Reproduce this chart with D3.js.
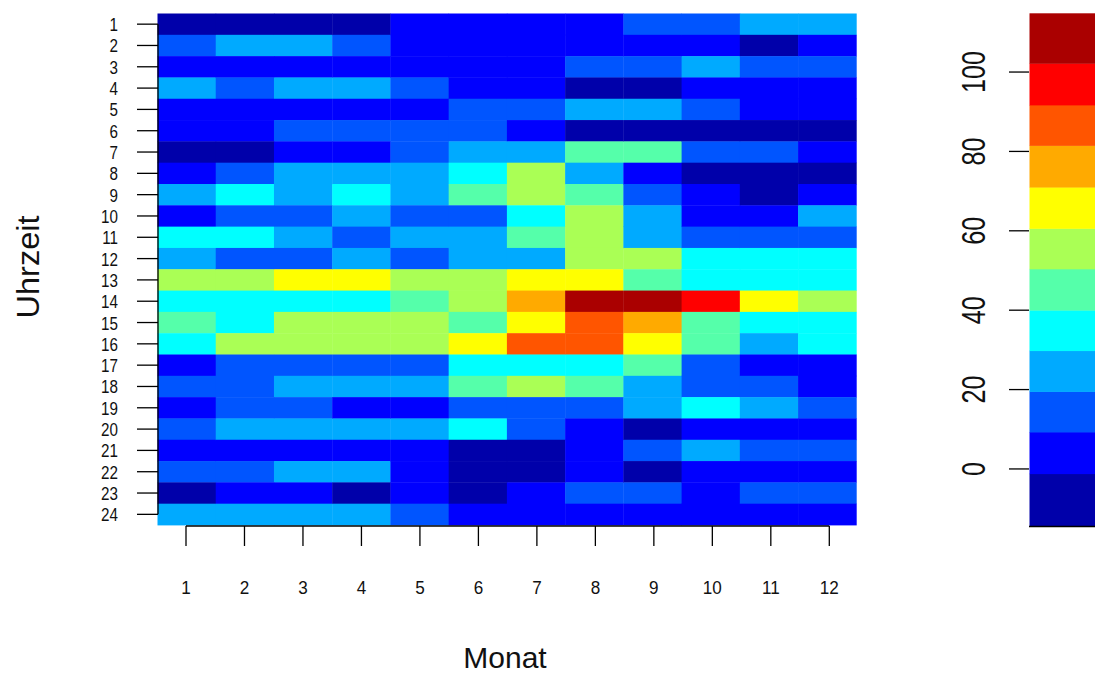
<!DOCTYPE html>
<html>
<head>
<meta charset="utf-8">
<script src="https://cdn.jsdelivr.net/npm/d3@7"></script>
<style>
  html, body { margin: 0; padding: 0; background: #fff; }
  svg { display: block; }
  text { font-family: "Liberation Sans", Arial, sans-serif; fill: #111; }
</style>
</head>
<body>
<svg id="chart" width="1095" height="675"></svg>
<script>
// Months (columns) and hours of day (rows)
const months = [1, 2, 3, 4, 5, 6, 7, 8, 9, 10, 11, 12];
const hours = d3.range(1, 25);

// Value per hour 1..24, one array per month
const jan = [-6, 14, 4, 26, 5, 3, -8, 6, 24, 7, 35, 22, 56, 37, 46, 33, 5, 15, 4, 13, 3, 16, -5, 25];
const feb = [-7, 25, 3, 15, 4, 5, -9, 13, 34, 16, 36, 15, 54, 35, 36, 55, 12, 14, 16, 23, 5, 12, 6, 24];
const mar = [-5, 26, 5, 24, 3, 14, 6, 25, 27, 12, 24, 13, 66, 33, 57, 56, 15, 22, 13, 26, 4, 23, 6, 26];
const apr = [-6, 13, 4, 27, 6, 15, 5, 23, 36, 24, 15, 26, 65, 34, 55, 58, 13, 25, 2, 24, 5, 25, -6, 27];
const may = [2, 3, 6, 14, 4, 16, 14, 26, 23, 16, 27, 14, 57, 44, 53, 54, 16, 23, 4, 25, 6, 3, 5, 15];
const jun = [4, 5, 2, 7, 13, 12, 24, 34, 45, 13, 26, 24, 54, 55, 47, 67, 36, 44, 15, 37, -4, -7, -8, 6];
const jul = [5, 6, 3, 6, 15, 6, 26, 55, 56, 35, 44, 25, 68, 77, 64, 85, 34, 56, 14, 16, -5, -6, 4, 3];
const aug = [6, 4, 16, -4, 27, -5, 46, 26, 45, 57, 56, 55, 66, 107, 87, 86, 36, 46, 15, 5, 6, 4, 13, 5];
const sep = [14, 5, 13, -6, 25, -4, 44, 6, 15, 24, 26, 56, 46, 109, 75, 65, 45, 24, 26, -7, 14, -8, 16, 4];
const oct = [15, 3, 23, 4, 16, -6, 13, -5, 5, 3, 17, 36, 35, 98, 44, 46, 14, 13, 35, 6, 25, 5, 3, 6];
const nov = [24, -7, 14, 5, 3, -5, 15, -6, -7, 4, 15, 34, 36, 67, 33, 24, 4, 16, 23, 5, 13, 3, 15, 4];
const dec = [26, 4, 16, 6, 5, -4, 6, -7, 5, 25, 14, 35, 37, 56, 36, 35, 3, 5, 15, 4, 14, 6, 14, 3];
const monthValues = [jan, feb, mar, apr, may, jun, jul, aug, sep, oct, nov, dec];

// Colour classes: break points and palette
const breaks = [-14.5, -1.2, 9.3, 19.5, 29.8, 40, 50.4, 60.6, 71, 81.5, 91.7, 102.2, 114.8];
const palette = ["#0000AA", "#0000FF", "#0055FF", "#00AAFF", "#00FFFF", "#55FFAA",
                 "#AAFF55", "#FFFF00", "#FFAA00", "#FF5500", "#FF0000", "#AA0000"];
const legendTicks = [0, 20, 40, 60, 80, 100];

const cells = [];
months.forEach((m, i) => hours.forEach((h, j) => cells.push({ month: m, hour: h, value: monthValues[i][j] })));

const svg = d3.select("#chart");

const color = d3.scaleThreshold().domain(breaks.slice(1, -1)).range(palette);

// Heatmap grid
const x = d3.scaleBand().domain(months).range([157.5, 856.3]);
const y = d3.scaleBand().domain(hours).range([13.5, 525]);

svg.append("g").selectAll("rect").data(cells).join("rect")
  .attr("x", d => x(d.month))
  .attr("y", d => y(d.hour))
  .attr("width", x.bandwidth() + 0.4)
  .attr("height", y.bandwidth() + 0.4)
  .attr("fill", d => color(d.value));

// X axis (month ticks)
const xAxisScale = d3.scaleLinear().domain([1, 12]).range([186, 829.3]);
const gx = svg.append("g").attr("transform", "translate(0,526)");
gx.append("line").attr("x1", xAxisScale(1)).attr("x2", xAxisScale(12))
  .attr("stroke", "#000").attr("stroke-width", 1.3);
gx.selectAll("line.tick").data(months).join("line").attr("class", "tick")
  .attr("x1", d => xAxisScale(d)).attr("x2", d => xAxisScale(d))
  .attr("y1", 0).attr("y2", 20).attr("stroke", "#000").attr("stroke-width", 1.3);
gx.selectAll("text").data(months).join("text")
  .attr("transform", d => `translate(${xAxisScale(d)},68) scale(0.9,1)`)
  .attr("text-anchor", "middle").attr("font-size", 19).text(d => d);

// Y axis (hour ticks)
const yc = h => y(h) + y.bandwidth() / 2;
const gy = svg.append("g");
gy.append("line").attr("x1", 158).attr("x2", 158).attr("y1", yc(1)).attr("y2", yc(24))
  .attr("stroke", "#000").attr("stroke-width", 1.3);
gy.selectAll("line.tick").data(hours).join("line").attr("class", "tick")
  .attr("x1", 137).attr("x2", 158).attr("y1", d => yc(d)).attr("y2", d => yc(d))
  .attr("stroke", "#000").attr("stroke-width", 1.3);
gy.selectAll("text").data(hours).join("text")
  .attr("transform", d => `translate(118,${yc(d) + 7}) scale(0.8,1)`)
  .attr("text-anchor", "end").attr("font-size", 19).text(d => d);

// Axis titles
svg.append("text").attr("transform", "translate(505,668)")
  .attr("text-anchor", "middle").attr("font-size", 30).text("Monat");
svg.append("text").attr("transform", "translate(39,267) rotate(-90) scale(1.05,1)")
  .attr("text-anchor", "middle").attr("font-size", 31).text("Uhrzeit");

// Colour key
const lg = d3.scaleLinear().domain([breaks[0], breaks[breaks.length - 1]]).range([526.5, 13.3]);
const bands = palette.map((c, i) => ({ lo: breaks[i], hi: breaks[i + 1], c }));
svg.append("g").selectAll("rect").data(bands).join("rect")
  .attr("x", 1029.5).attr("width", 70)
  .attr("y", d => lg(d.hi)).attr("height", d => lg(d.lo) - lg(d.hi) + 0.4)
  .attr("fill", d => d.c);
svg.append("line").attr("x1", 1029).attr("x2", 1095).attr("y1", 526.5).attr("y2", 526.5)
  .attr("stroke", "#000").attr("stroke-width", 1.3);
const gl = svg.append("g");
gl.selectAll("line").data(legendTicks).join("line")
  .attr("x1", 1009).attr("x2", 1029).attr("y1", d => lg(d)).attr("y2", d => lg(d))
  .attr("stroke", "#000").attr("stroke-width", 1.3);
gl.selectAll("text").data(legendTicks).join("text")
  .attr("transform", d => `translate(985,${lg(d)}) rotate(-90) scale(0.74,1)`)
  .attr("text-anchor", "middle").attr("font-size", 34).text(d => d);
</script>
</body>
</html>
